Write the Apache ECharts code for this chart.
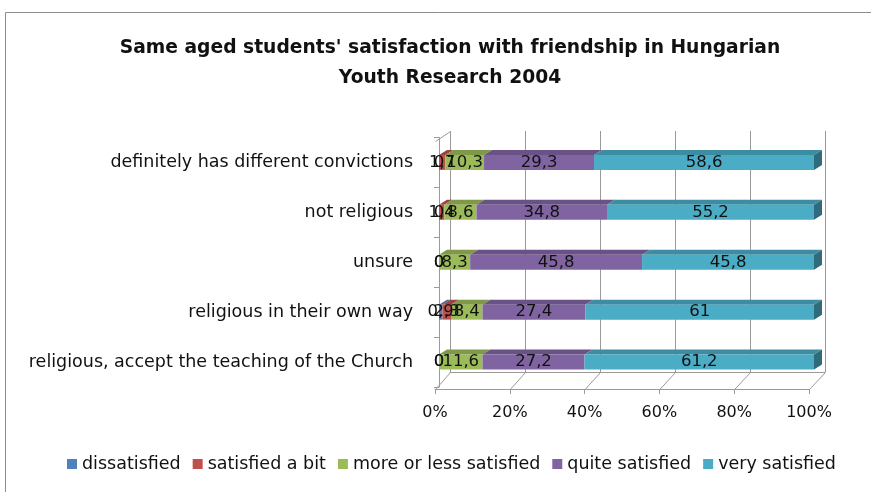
<!DOCTYPE html>
<html>
<head>
<meta charset="utf-8">
<script src="https://cdn.jsdelivr.net/npm/echarts@6/dist/echarts.min.js"></script>
<style>
  html, body { margin: 0; padding: 0; background: #fff; }
  #chart { width: 871px; height: 492px; }
</style>
</head>
<body>
<div id="chart"></div>
<script>
// Categories listed bottom-to-top (category axis starts at the bottom)
const categories = [
  "religious, accept the teaching of the Church",
  "religious in their own way",
  "unsure",
  "not religious",
  "definitely has different convictions"
];
const seriesNames = ["dissatisfied", "satisfied a bit", "more or less satisfied", "quite satisfied", "very satisfied"];
const dissatisfied  = [0, 0.9, 0, 0, 0];
const satisfiedABit = [0, 2.3, 0, 1.4, 1.7];
const moreOrLess    = [11.6, 8.4, 8.3, 8.6, 10.3];
const quite         = [27.2, 27.4, 45.8, 34.8, 29.3];
const very          = [61.2, 61, 45.8, 55.2, 58.6];
const xTicks = [0, 20, 40, 60, 80, 100];

const seriesValues = [dissatisfied, satisfiedABit, moreOrLess, quite, very];
const colors = ["#4F81BD", "#C0504D", "#9BBB59", "#8064A2", "#4BACC6"];
const FONT = "'DejaVu Sans', sans-serif";
const TEXT = "#111";

// 3D geometry
const BAR_H = 15;           // front face height of a bar
const DEPTH = [8, -5];      // offset of a bar's back edge
// planes of the box: front floor edge, bar plane, back wall
const FRONT = { left: 435, right: 809, top: 147, bottom: 389 };
const BARS  = { left: 439, right: 814, top: 137.5, bottom: 387 };
const BACK  = { left: 450, right: 825, top: 131, bottom: 372 };

function shade(hex, k) {
  const n = parseInt(hex.slice(1), 16);
  const r = Math.round(((n >> 16) & 255) * k);
  const g = Math.round(((n >> 8) & 255) * k);
  const b = Math.round((n & 255) * k);
  return "rgb(" + r + "," + g + "," + b + ")";
}

// 100% stacking: share of each answer within its row
const rowTotals = categories.map((_, i) => seriesValues.reduce((s, arr) => s + arr[i], 0));
const shares = seriesValues.map(arr => arr.map((v, i) => v / rowTotals[i] * 100));

// segments for the top / side faces of the stacked bars
const faceData = [];
categories.forEach((_, i) => {
  let start = 0;
  shares.forEach((arr, s) => {
    const end = start + arr[i];
    faceData.push([i, start, end, s]);
    start = end;
  });
});

const fmt = v => String(v).replace(".", ",");

const chart = echarts.init(document.getElementById("chart"), null, { renderer: "canvas" });

function gridOf(r) {
  return { left: r.left, right: 871 - r.right, top: r.top, bottom: 492 - r.bottom, containLabel: false };
}

const barSeries = seriesNames.map((name, s) => ({
  name: name,
  type: "bar",
  xAxisIndex: 1,
  yAxisIndex: 1,
  stack: "total",
  barWidth: BAR_H,
  z: 3,
  itemStyle: { color: colors[s] },
  label: {
    show: true,
    position: "inside",
    color: TEXT,
    fontFamily: FONT,
    fontSize: 16.5,
    offset: [0, 1],
    formatter: p => fmt(seriesValues[s][p.dataIndex])
  },
  labelLayout: { hideOverlap: false },
  data: shares[s]
}));

const faceSeries = {
  type: "custom",
  xAxisIndex: 1,
  yAxisIndex: 1,
  z: 2,
  silent: true,
  data: faceData,
  renderItem: (params, api) => {
    const cat = api.value(0), start = api.value(1), end = api.value(2), s = api.value(3);
    const p0 = api.coord([start, cat]);
    const p1 = api.coord([end, cat]);
    const yTop = p0[1] - BAR_H / 2, yBot = p0[1] + BAR_H / 2;
    const [dx, dy] = DEPTH;
    const children = [{
      type: "polygon",
      shape: { points: [[p0[0], yTop], [p1[0], yTop], [p1[0] + dx, yTop + dy], [p0[0] + dx, yTop + dy]] },
      style: { fill: shade(colors[s], 0.82) }
    }];
    if (s === seriesNames.length - 1) {
      children.push({
        type: "polygon",
        shape: { points: [[p1[0], yTop], [p1[0] + dx, yTop + dy], [p1[0] + dx, yBot + dy], [p1[0], yBot]] },
        style: { fill: shade(colors[s], 0.62) }
      });
    }
    return { type: "group", children: children };
  }
};

// oblique edges joining the front floor edge to the back wall
const lineStyle = { stroke: "#9a9a9a", lineWidth: 1 };
const frameLines = [];
xTicks.forEach(t => {
  const fx = FRONT.left + (FRONT.right - FRONT.left) * t / 100;
  const bx = BACK.left + (BACK.right - BACK.left) * t / 100;
  frameLines.push({ type: "line", silent: true, z: 1,
    shape: { x1: fx + 0.5, y1: FRONT.bottom + 0.5, x2: bx + 0.5, y2: BACK.bottom + 0.5 }, style: lineStyle });
});
frameLines.push({ type: "line", silent: true, z: 1,
  shape: { x1: FRONT.left + 0.5, y1: BARS.top + 4, x2: BACK.left + 0.5, y2: BACK.top + 0.5 }, style: lineStyle });

chart.setOption({
  animation: false,
  textStyle: { fontFamily: FONT, color: TEXT },
  title: {
    text: "Same aged students' satisfaction with friendship in Hungarian\nYouth Research 2004",
    left: 445,
    top: 28,
    textAlign: "center",
    textStyle: { fontFamily: FONT, fontSize: 18.7, fontWeight: "bold", color: TEXT, lineHeight: 30 }
  },
  legend: {
    data: seriesNames,
    bottom: 14,
    left: 62,
    icon: "rect",
    itemWidth: 10,
    itemHeight: 10,
    itemGap: 12,
    textStyle: { fontFamily: FONT, fontSize: 17.5, color: TEXT, padding: [0, 0, 0, 0] }
  },
  grid: [gridOf(FRONT), gridOf(BARS), gridOf(BACK)],
  xAxis: [
    { // front floor edge with percentage labels
      gridIndex: 0, type: "value", min: 0, max: 100, interval: 20,
      axisLine: { show: true, lineStyle: { color: "#9a9a9a" } },
      axisTick: { show: true, length: 5, lineStyle: { color: "#9a9a9a" } },
      axisLabel: { formatter: "{value}%", fontFamily: FONT, fontSize: 16, color: TEXT, margin: 16 },
      splitLine: { show: false }
    },
    { gridIndex: 1, type: "value", min: 0, max: 100, show: false },
    { // back wall gridlines
      gridIndex: 2, type: "value", min: 0, max: 100, interval: 20,
      axisLine: { show: true, lineStyle: { color: "#9a9a9a" } },
      axisTick: { show: false }, axisLabel: { show: false },
      splitLine: { show: true, lineStyle: { color: "#9a9a9a", width: 1 } }
    }
  ],
  yAxis: [
    { gridIndex: 0, type: "category", data: categories, show: false },
    { // category labels on the bar plane, line and ticks at the left edge
      gridIndex: 1, type: "category", data: categories, offset: 4,
      axisLine: { show: true, lineStyle: { color: "#9a9a9a" } },
      axisTick: { show: true, length: 5, lineStyle: { color: "#9a9a9a" } },
      axisLabel: { fontFamily: FONT, fontSize: 17.5, color: TEXT, margin: 22 }
    },
    { gridIndex: 2, type: "category", data: categories, show: false }
  ],
  series: barSeries.concat([faceSeries]),
  graphic: [
    { type: "rect", silent: true, z: 0,
      shape: { x: 5.5, y: 12.5, width: 900, height: 520 },
      style: { fill: null, stroke: "#8c8c8c", lineWidth: 1 } }
  ].concat(frameLines)
});
</script>
</body>
</html>
